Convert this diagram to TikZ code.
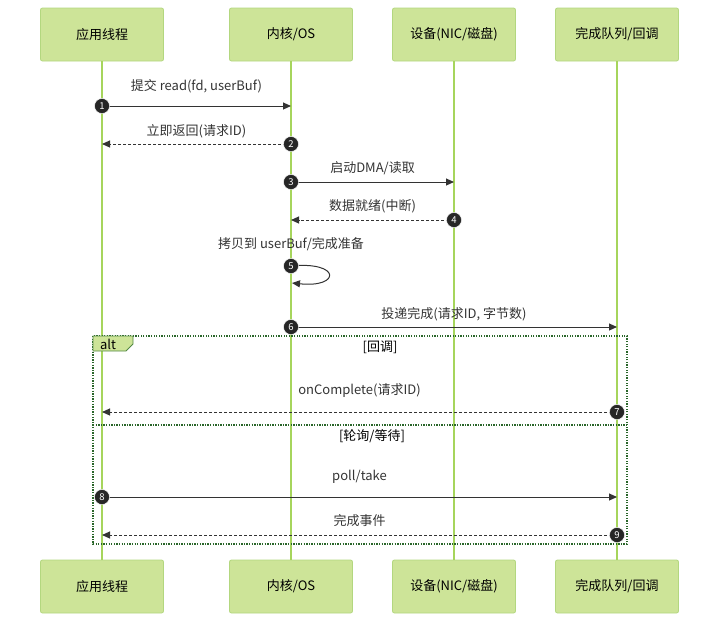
\documentclass[tikz,border=0pt]{standalone}
\usepackage{fontspec}
\setmainfont{Noto Sans CJK SC}
\usetikzlibrary{arrows.meta}
\definecolor{actorfill}{HTML}{CDE498}
\definecolor{actorline}{HTML}{B3D77F}
\definecolor{lifeline}{HTML}{A6D55C}
\definecolor{msgline}{HTML}{333333}
\definecolor{framegreen}{HTML}{2A662A}
\tikzset{
    actor/.style={rectangle, rounded corners=2pt, draw=actorline, fill=actorfill, line width=0.8pt, minimum width=123pt, minimum height=53pt, font=\fontsize{13}{15}\selectfont},
    life/.style={draw=lifeline, line width=1.4pt},
    msg/.style={draw=msgline, line width=1pt, -{Triangle[length=8pt, width=7pt]}},
    reply/.style={msg, dash pattern=on 3pt off 2pt},
    seqno/.style={circle, fill=black!85, draw=white, line width=0.4pt, text=white, inner sep=0pt, minimum size=15pt, font=\fontsize{9.5}{9.5}\selectfont},
    msgtext/.style={font=\fontsize{13}{15}\selectfont, text=msgline},
    altframe/.style={draw=framegreen, line width=1.3pt, dash pattern=on 1.3pt off 1.3pt},
    alttag/.style={draw=framegreen!70!actorline, fill=actorfill, line width=0.8pt}
}

\begin{document}
\begin{tikzpicture}[x=1pt, y=-1pt]
  \useasboundingbox (0,0) rectangle (720,622);

  % participants
  \node [actor] (appT) at (102,34.5) {应用线程};
  \node [actor] (osT)  at (291,34.5) {内核/OS};
  \node [actor] (devT) at (454,34.5) {设备(NIC/磁盘)};
  \node [actor] (cqT)  at (617,34.5) {完成队列/回调};
  \node [actor] (appB) at (102,586.5) {应用线程};
  \node [actor] (osB)  at (291,586.5) {内核/OS};
  \node [actor] (devB) at (454,586.5) {设备(NIC/磁盘)};
  \node [actor] (cqB)  at (617,586.5) {完成队列/回调};

  % lifelines
  \foreach \p in {app,os,dev,cq}
    \draw [life] (\p T) -- (\p B);

  % alt block
  \coordinate (altNW) at (93,336);
  \coordinate (altSE) at (627,544);
  \coordinate (sepW) at (93,425);
  \coordinate (sepE) at (627,425);
  \draw [altframe] (altNW) rectangle (altSE);
  \draw [altframe] (sepW) -- (sepE);
  \draw [alttag] (altNW) -- ++(40,0) -- ++(0,8) -- ++(-7,7) -- ++(-33,0) -- cycle;
  \node [font=\fontsize{13}{15}\selectfont] (altlbl) at (108,344) {alt};
  \node [font=\fontsize{13}{15}\selectfont] (cond1) at (380,347) {[回调]};
  \node [font=\fontsize{13}{15}\selectfont] (cond2) at (372,436) {[轮询/等待]};

  % message ends
  \coordinate (s1) at (102,106); \coordinate (e1) at (291,106);
  \coordinate (s2) at (291,144); \coordinate (e2) at (102,144);
  \coordinate (s3) at (291,182); \coordinate (e3) at (454,182);
  \coordinate (s4) at (454,220); \coordinate (e4) at (291,220);
  \coordinate (s5) at (291,266); \coordinate (e5) at (292,283);
  \coordinate (s6) at (291,327); \coordinate (e6) at (617,327);
  \coordinate (s7) at (617,412); \coordinate (e7) at (102,412);
  \coordinate (s8) at (102,497); \coordinate (e8) at (617,497);
  \coordinate (s9) at (617,535); \coordinate (e9) at (102,535);

  % messages
  \draw [msg]   (s1) -- (e1);
  \draw [reply] (s2) -- (e2);
  \draw [msg]   (s3) -- (e3);
  \draw [reply] (s4) -- (e4);
  \draw [msg]   (s5) .. controls (341,261) and (341,288) .. (e5);
  \draw [msg]   (s6) -- (e6);
  \draw [reply] (s7) -- (e7);
  \draw [msg]   (s8) -- (e8);
  \draw [reply] (s9) -- (e9);

  \node [msgtext] (t1) at (196.5,86)  {提交 read(fd, userBuf)};
  \node [msgtext] (t2) at (196.5,131) {立即返回(请求ID)};
  \node [msgtext] (t3) at (372.5,168) {启动DMA/读取};
  \node [msgtext] (t4) at (372.5,206) {数据就绪(中断)};
  \node [msgtext] (t5) at (291,244)   {拷贝到 userBuf/完成准备};
  \node [msgtext] (t6) at (454,314)   {投递完成(请求ID, 字节数)};
  \node [msgtext] (t7) at (359.5,391) {onComplete(请求ID)};
  \node [msgtext] (t8) at (359.5,477) {poll/take};
  \node [msgtext] (t9) at (359.5,521) {完成事件};

  % sequence numbers
  \foreach \i in {1,...,9}
    \node [seqno] (n\i) at (s\i) {\i};
\end{tikzpicture}
\end{document}
